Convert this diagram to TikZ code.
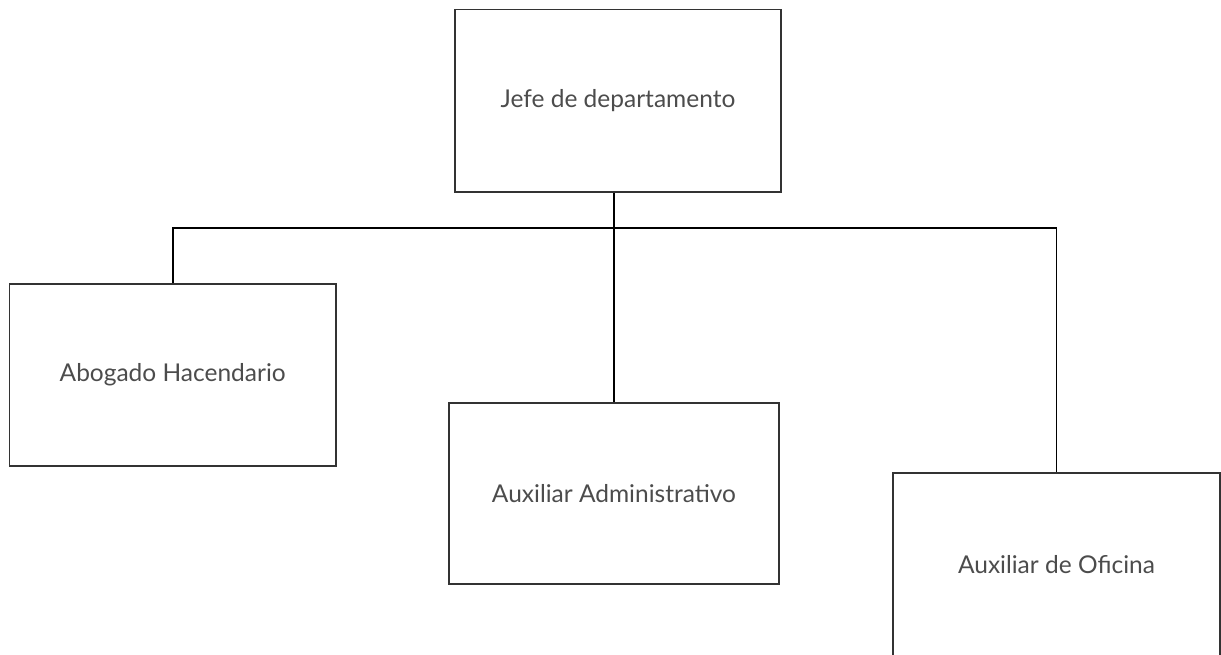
\documentclass[tikz,border=0pt]{standalone}
\usepackage{fontspec}
\setmainfont{Lato}
\usetikzlibrary{calc}
\begin{document}
\begin{tikzpicture}[x=1pt,y=-1pt,
  box/.style={draw=black!80,line width=1.3pt,rectangle,inner sep=0pt,
    align=center,text=black!70,font=\fontsize{24.5}{29}\selectfont},
  link/.style={draw=black,line width=1.5pt}]
\useasboundingbox (0,0) rectangle (1221,654);
\node[box,minimum width=326pt,minimum height=182.5pt] (jefe) at (618,100.75) {Jefe de departamento};
\node[box,minimum width=326.5pt,minimum height=182pt] (abog) at (172.75,375) {Abogado Hacendario};
\node[box,minimum width=330pt,minimum height=181pt] (admin) at (614,493.4) {Auxiliar Administrativo};
\node[box,minimum width=327pt,minimum height=183pt] (ofi) at (1056.5,564.5) {Auxiliar de Oficina};
\coordinate (bus) at (614,228);
\draw[link] (jefe.south -| admin.north) -- (admin.north);
\draw[link] (abog.north) |- (bus) -| (ofi.north);
\end{tikzpicture}
\end{document}
